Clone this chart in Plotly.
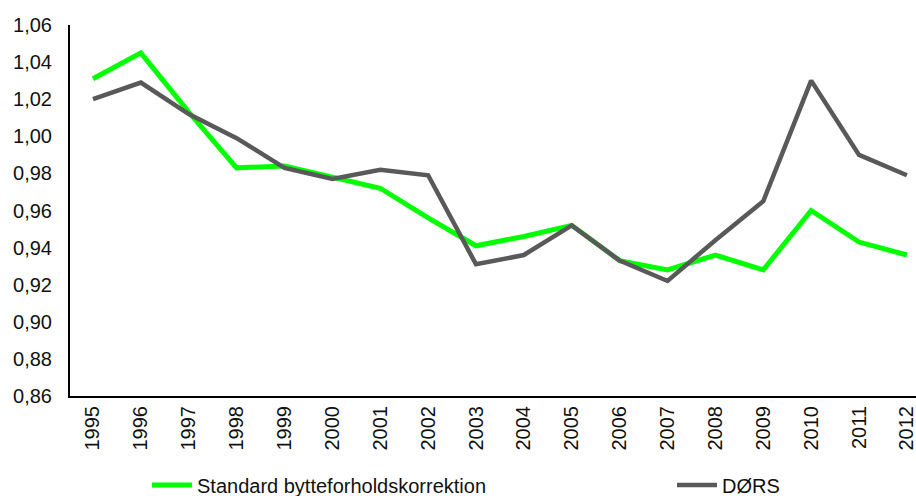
import plotly.graph_objects as go

years = [str(y) for y in range(1995, 2013)]
standard = [1.031, 1.045, 1.013, 0.983, 0.984, 0.978, 0.972, 0.956, 0.941, 0.946, 0.952, 0.933,
            0.928, 0.936, 0.928, 0.960, 0.943, 0.936]
doers = [1.020, 1.029, 1.012, 0.999, 0.983, 0.977, 0.982, 0.979, 0.931, 0.936, 0.952, 0.933,
         0.922, 0.944, 0.965, 1.030, 0.990, 0.979]
y_ticks = [0.86, 0.88, 0.90, 0.92, 0.94, 0.96, 0.98, 1.00, 1.02, 1.04, 1.06]

FONT = "Liberation Sans, Arial, sans-serif"
TXT = "#111111"

fig = go.Figure()
fig.add_trace(go.Scatter(x=years, y=standard, mode="lines", name="Standard bytteforholdskorrektion",
                         line=dict(color="#00FF00", width=5), legend="legend"))
fig.add_trace(go.Scatter(x=years, y=doers, mode="lines", name="DØRS",
                         line=dict(color="#595959", width=4.5), legend="legend2"))

leg_common = dict(orientation="h", xanchor="left", yanchor="middle", xref="container", yref="container",
                  font=dict(family=FONT, size=20, color=TXT), bgcolor="rgba(0,0,0,0)",
                  borderwidth=0, itemwidth=40)

fig.update_layout(
    width=916, height=496,
    margin=dict(l=70, r=0, t=25, b=100, autoexpand=False),
    paper_bgcolor="white", plot_bgcolor="white",
    separators=", ",
    font=dict(family=FONT, size=20, color=TXT),
    showlegend=True,
    legend=dict(x=147 / 916, y=1 - 485 / 496, **leg_common),
    legend2=dict(x=672 / 916, y=1 - 485 / 496, **leg_common),
    xaxis=dict(type="category", range=[-0.48, 17.19], showgrid=False, zeroline=False,
               showline=True, linecolor="black", linewidth=2, ticks="", automargin=False,
               tickangle=-90, tickfont=dict(family=FONT, size=20, color=TXT)),
    yaxis=dict(range=[0.86, 1.06], tickvals=y_ticks, tickformat=".2f", showgrid=False,
               zeroline=False, showline=True, linecolor="black", linewidth=2, ticks="",
               ticklabelstandoff=12, automargin=False,
               tickfont=dict(family=FONT, size=20, color=TXT)),
)

fig.write_html("out.html", config={"displayModeBar": False},
               post_script="document.body.style.margin='0';document.body.style.padding='0';")
